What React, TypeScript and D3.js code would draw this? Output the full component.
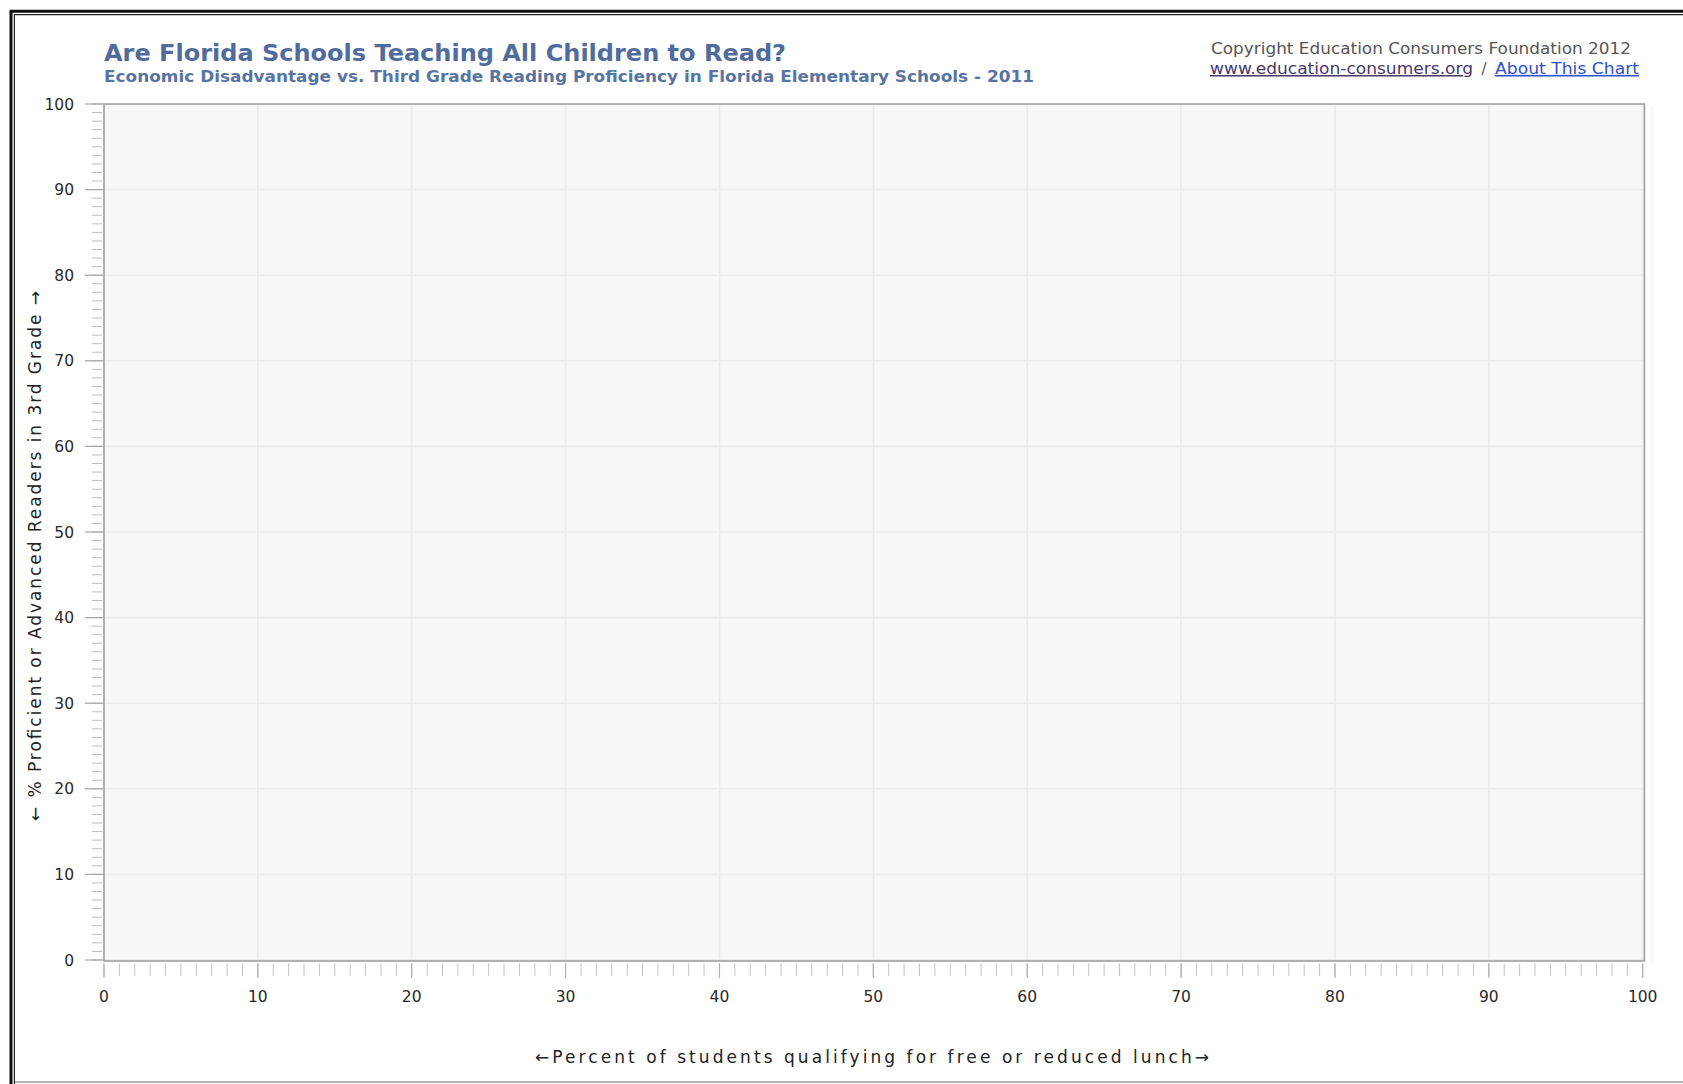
import React from "react";
import * as d3 from "d3";

// ---- chart content ----
const titleText = "Are Florida Schools Teaching All Children to Read?";
const subtitleText =
  "Economic Disadvantage vs. Third Grade Reading Proficiency in Florida Elementary Schools - 2011";
const copyrightText = "Copyright Education Consumers Foundation 2012";
const siteLinkText = "www.education-consumers.org";
const aboutLinkText = "About This Chart";
const xAxisLabel = "\u2190Percent of students qualifying for free or reduced lunch\u2192";
const yAxisLabel = "\u2190 % Proficient or Advanced Readers in 3rd Grade \u2192";

const xDomain = [0, 100];
const yDomain = [0, 100];
const xTickValues = [0, 10, 20, 30, 40, 50, 60, 70, 80, 90, 100];
const yTickValues = [0, 10, 20, 30, 40, 50, 60, 70, 80, 90, 100];
const minorStep = 1;

// no data points are shown in the reference (empty scatter)
const schoolPoints: { lunch: number; proficient: number }[] = [];

const W = 1683;
const H = 1084;

export default function App() {
  const x = d3.scaleLinear().domain(xDomain).range([104, 1642.7]);
  const y = d3.scaleLinear().domain(yDomain).range([960, 104]);
  const minorX = d3.range(xDomain[0], xDomain[1] + minorStep / 2, minorStep);
  const minorY = d3.range(yDomain[0], yDomain[1] + minorStep / 2, minorStep);

  const plotLeft = x(0);
  const plotRight = 1644.5;
  const plotTop = y(100);
  const plotBottom = 961;

  const tickFont = "'DejaVu Sans', Verdana, sans-serif";

  return (
    <svg
      width={W}
      height={H}
      viewBox={`0 0 ${W} ${H}`}
      style={{ position: "absolute", left: 0, top: 0, background: "#fff" }}
    >
      <rect x={0} y={0} width={W} height={H} fill="#fff" />

      {/* frame border */}
      <path d={`M11,${H} V11.3 H${W}`} fill="none" stroke="#111" strokeWidth={3} />
      <path d={`M14.4,${H} V14.7 H${W}`} fill="none" stroke="#222" strokeWidth={1.2} />
      <line x1={15} x2={W} y1={1082} y2={1082} stroke="#b5b5b5" strokeWidth={2} />

      {/* titles */}
      <text
        x={104}
        y={61}
        fontFamily="'DejaVu Sans', Verdana, sans-serif"
        fontWeight="bold"
        fontSize={22.5}
        fill="#4f6c9d"
        textLength={682}
        lengthAdjust="spacingAndGlyphs"
      >
        {titleText}
      </text>
      <text
        x={104}
        y={82}
        fontFamily="'DejaVu Sans', Verdana, sans-serif"
        fontWeight="bold"
        fontSize={15.5}
        fill="#5874a2"
        textLength={930}
        lengthAdjust="spacingAndGlyphs"
      >
        {subtitleText}
      </text>

      {/* copyright block */}
      <text
        x={1211}
        y={54}
        fontFamily="'DejaVu Sans', 'Lucida Grande', sans-serif"
        fontSize={15}
        fill="#555"
        textLength={420}
        lengthAdjust="spacingAndGlyphs"
      >
        {copyrightText}
      </text>
      <text
        x={1210}
        y={74}
        fontFamily="'DejaVu Sans', 'Lucida Grande', sans-serif"
        fontSize={15}
        fill="#46396a"
        textDecoration="underline"
        textLength={263}
        lengthAdjust="spacingAndGlyphs"
      >
        {siteLinkText}
      </text>
      <text
        x={1484}
        y={74}
        fontFamily="'DejaVu Sans', 'Lucida Grande', sans-serif"
        fontSize={15}
        fill="#555"
        textAnchor="middle"
      >
        /
      </text>
      <text
        x={1495}
        y={74}
        fontFamily="'DejaVu Sans', 'Lucida Grande', sans-serif"
        fontSize={15}
        fill="#2f4fd0"
        textDecoration="underline"
        textLength={144}
        lengthAdjust="spacingAndGlyphs"
      >
        {aboutLinkText}
      </text>

      {/* plot background */}
      <rect
        x={plotLeft}
        y={plotTop}
        width={plotRight - plotLeft}
        height={plotBottom - plotTop}
        fill="#f7f7f7"
      />
      {/* faint shadow at right */}
      <line x1={1652} x2={1652} y1={plotTop + 2} y2={plotBottom + 2} stroke="#f0f0f0" strokeWidth={1.5} />

      {/* gridlines */}
      {xTickValues.map((v) => (
        <line
          key={`gx${v}`}
          x1={x(v)}
          x2={x(v)}
          y1={plotTop}
          y2={plotBottom}
          stroke="#ebebeb"
          strokeWidth={1.6}
        />
      ))}
      {yTickValues.map((v) => (
        <line
          key={`gy${v}`}
          x1={plotLeft}
          x2={plotRight}
          y1={y(v)}
          y2={y(v)}
          stroke="#ebebeb"
          strokeWidth={1.6}
        />
      ))}

      {/* data points (none) */}
      {schoolPoints.map((d, i) => (
        <circle key={i} cx={x(d.lunch)} cy={y(d.proficient)} r={3} fill="#4f6c9d" />
      ))}

      {/* plot frame */}
      <rect
        x={plotLeft}
        y={plotTop}
        width={plotRight - plotLeft}
        height={plotBottom - plotTop}
        fill="none"
        stroke="#9a9a9a"
        strokeWidth={1.5}
      />

      {/* y minor ticks */}
      {minorY.map((v) => (
        <line
          key={`my${v}`}
          x1={92}
          x2={102}
          y1={y(v)}
          y2={y(v)}
          stroke="#bdbdbd"
          strokeWidth={1}
        />
      ))}
      {/* y major ticks */}
      {yTickValues.map((v) => (
        <line
          key={`My${v}`}
          x1={85}
          x2={plotLeft}
          y1={y(v)}
          y2={y(v)}
          stroke="#a5a5a5"
          strokeWidth={1.2}
        />
      ))}
      {yTickValues.map((v) => (
        <text
          key={`ly${v}`}
          x={74}
          y={y(v)}
          dy="0.36em"
          textAnchor="end"
          fontFamily={tickFont}
          fontSize={15.5}
          fill="#2a2a2a"
        >
          {v}
        </text>
      ))}

      {/* x minor ticks */}
      {minorX.map((v) => (
        <line
          key={`mx${v}`}
          x1={x(v)}
          x2={x(v)}
          y1={963.5}
          y2={976}
          stroke="#c4c4c4"
          strokeWidth={1}
        />
      ))}
      {xTickValues.map((v) => (
        <line
          key={`Mx${v}`}
          x1={x(v)}
          x2={x(v)}
          y1={963.5}
          y2={978}
          stroke="#b0b0b0"
          strokeWidth={1.2}
        />
      ))}
      {xTickValues.map((v) => (
        <text
          key={`lx${v}`}
          x={x(v)}
          y={1002}
          textAnchor="middle"
          fontFamily={tickFont}
          fontSize={15.5}
          fill="#2a2a2a"
        >
          {v}
        </text>
      ))}

      {/* axis labels */}
      <text
        x={872}
        y={1063}
        textAnchor="middle"
        fontFamily="'DejaVu Sans', 'Lucida Grande', sans-serif"
        fontSize={17}
        fill="#222"
        textLength={674}
        lengthAdjust="spacing"
      >
        {xAxisLabel}
      </text>
      <text
        transform={`translate(41,556) rotate(-90)`}
        textAnchor="middle"
        fontFamily="'DejaVu Sans', 'Lucida Grande', sans-serif"
        fontSize={17}
        fill="#222"
        textLength={530}
        lengthAdjust="spacing"
      >
        {yAxisLabel}
      </text>
    </svg>
  );
}
